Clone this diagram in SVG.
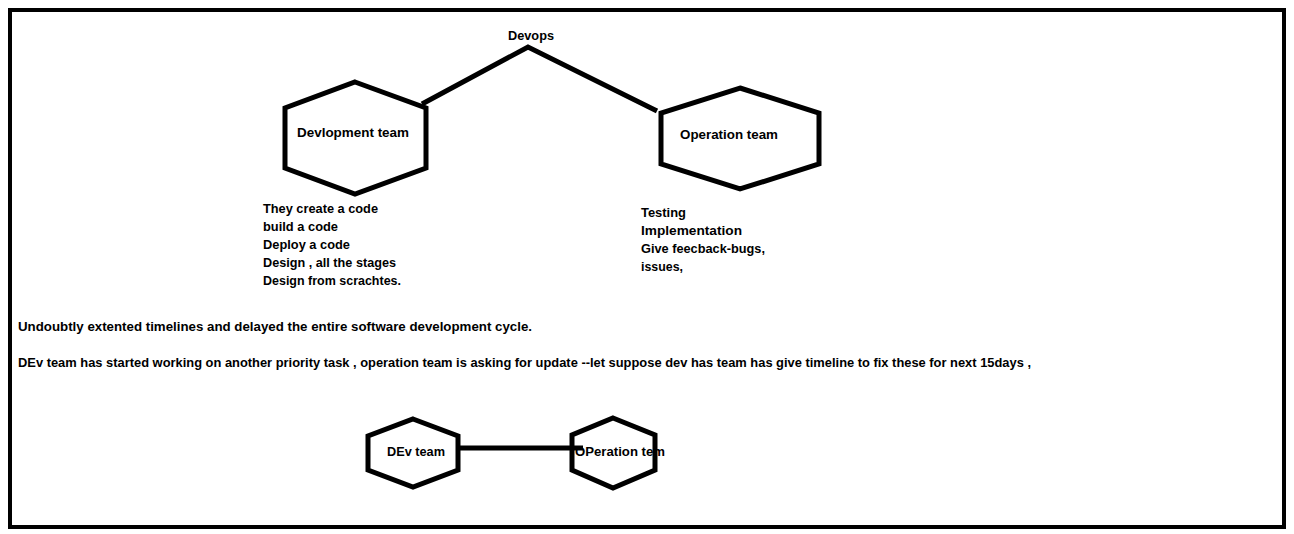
<svg xmlns="http://www.w3.org/2000/svg" width="1294" height="534" viewBox="0 0 1294 534">
<style>
.hex{fill:#fff;stroke:#000;stroke-width:5;stroke-linejoin:miter}
.ln{fill:none;stroke:#000;stroke-width:5}
text{font-family:"Liberation Sans",Arial,sans-serif;font-weight:bold;font-size:13.5px;fill:#000}
</style>
<rect x="0" y="0" width="1294" height="534" fill="#fff"/>
<rect x="10" y="10" width="1274" height="517" fill="none" stroke="#000" stroke-width="4"/>
<g id="connectors">
<polyline class="ln" points="422,104 528,47 657,111"/>
<line class="ln" x1="458" y1="448" x2="583" y2="448"/>
</g>
<g id="devops-label"><text x="508" y="40" textLength="46" lengthAdjust="spacingAndGlyphs">Devops</text></g>
<g id="dev-team">
<polygon class="hex" points="355,82 426,108 426,168 355,194 285,168 285,108"/>
<text x="297" y="137" textLength="112" lengthAdjust="spacingAndGlyphs">Devlopment team</text>
</g>
<g id="op-team">
<polygon class="hex" points="740,88 819,113 819,164 740,189 661,164 661,113"/>
<text x="680" y="139" textLength="98" lengthAdjust="spacingAndGlyphs">Operation team</text>
</g>
<g id="dev-notes">
<text x="263" y="213" textLength="115" lengthAdjust="spacingAndGlyphs">They create a code</text>
<text x="263" y="231" textLength="75" lengthAdjust="spacingAndGlyphs">build a code</text>
<text x="263" y="249" textLength="87" lengthAdjust="spacingAndGlyphs">Deploy a code</text>
<text x="263" y="267" textLength="133" lengthAdjust="spacingAndGlyphs">Design , all the stages</text>
<text x="263" y="285" textLength="138" lengthAdjust="spacingAndGlyphs">Design from scrachtes.</text>
</g>
<g id="op-notes">
<text x="641" y="217" textLength="45" lengthAdjust="spacingAndGlyphs">Testing</text>
<text x="641" y="235" textLength="101" lengthAdjust="spacingAndGlyphs">Implementation</text>
<text x="641" y="253" textLength="124" lengthAdjust="spacingAndGlyphs">Give feecback-bugs,</text>
<text x="641" y="271" textLength="42" lengthAdjust="spacingAndGlyphs">issues,</text>
</g>
<g id="paragraphs">
<text x="18" y="331" textLength="514" lengthAdjust="spacingAndGlyphs">Undoubtly extented timelines and delayed the entire software development cycle.</text>
<text x="18" y="367" textLength="1013" lengthAdjust="spacingAndGlyphs">DEv team has started working on another priority task , operation team is asking for update --let suppose dev has team has give timeline to fix these for next 15days ,</text>
</g>
<g id="dev-team-2">
<polygon class="hex" points="413,419 458,436 458,470 413,487 368,470 368,436"/>
<text x="387" y="456" textLength="58" lengthAdjust="spacingAndGlyphs">DEv team</text>
</g>
<g id="op-team-2">
<polygon class="hex" points="613,418 655,435 655,470 613,488 572,470 572,435"/>
<line class="ln" x1="572" y1="448" x2="583" y2="448"/>
<text x="575" y="456" textLength="90" lengthAdjust="spacingAndGlyphs">OPeration tem</text>
</g>
</svg>
